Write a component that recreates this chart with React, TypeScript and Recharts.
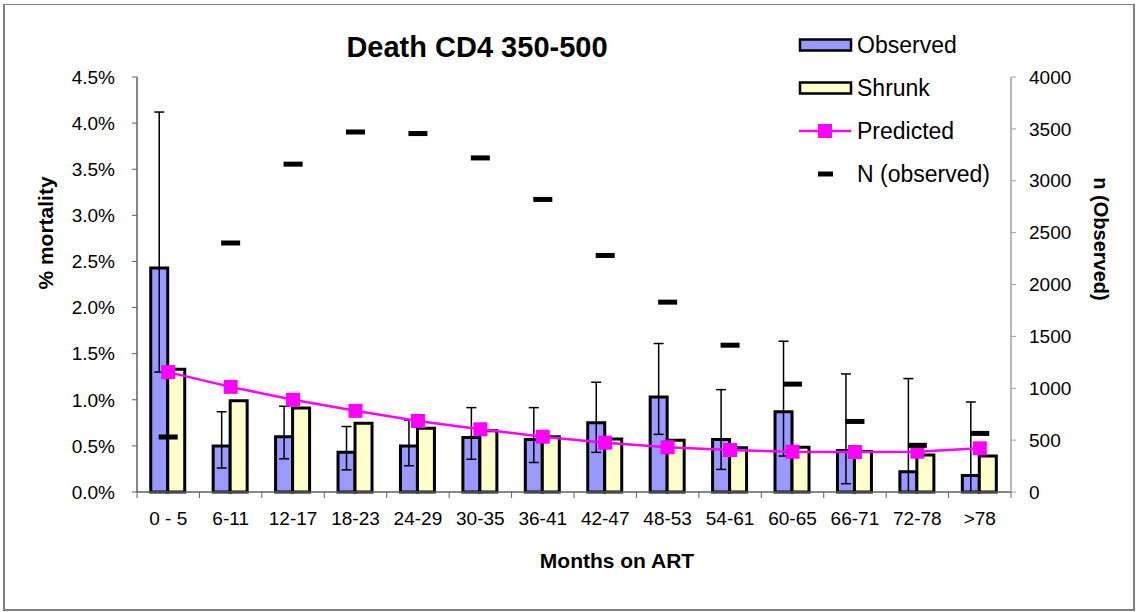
import { ComposedChart, Bar, Line, XAxis, YAxis, ErrorBar } from 'recharts';

const categories = ['0 - 5', '6-11', '12-17', '18-23', '24-29', '30-35', '36-41', '42-47', '48-53', '54-61', '60-65', '66-71', '72-78', '>78'];
const observed = [2.43, 0.5, 0.6, 0.43, 0.5, 0.59, 0.57, 0.75, 1.03, 0.57, 0.87, 0.45, 0.22, 0.18];
const observedLow = [1.3, 0.26, 0.36, 0.24, 0.285, 0.355, 0.32, 0.43, 0.625, 0.245, 0.39, 0.09, 0, 0];
const observedHigh = [4.12, 0.87, 0.93, 0.71, 0.78, 0.915, 0.915, 1.19, 1.61, 1.11, 1.635, 1.28, 1.23, 0.976];
const shrunk = [1.33, 0.99, 0.91, 0.745, 0.69, 0.665, 0.6, 0.575, 0.56, 0.48, 0.485, 0.44, 0.4, 0.39];
const predicted = [1.3, 1.14, 1.0, 0.88, 0.77, 0.68, 0.6, 0.535, 0.485, 0.455, 0.437, 0.434, 0.437, 0.474];
const nObserved = [530, 2400, 3160, 3470, 3455, 3220, 2820, 2280, 1830, 1415, 1040, 680, 450, 565];

const pctTicks = [0, 0.5, 1, 1.5, 2, 2.5, 3, 3.5, 4, 4.5];
const nTicks = [0, 500, 1000, 1500, 2000, 2500, 3000, 3500, 4000];

const FONT = 'Arial, "Liberation Sans", sans-serif';
const PLOT_LEFT = 137;
const PLOT_RIGHT = 1011;
const PLOT_BOTTOM = 492;
const BAND = (PLOT_RIGHT - PLOT_LEFT) / categories.length;

const data = categories.map((cat, i) => ({
  cat,
  observed: observed[i],
  obsErr: [observed[i] - observedLow[i], observedHigh[i] - observed[i]],
  shrunk: shrunk[i],
  predicted: predicted[i],
  n: nObserved[i],
}));

function XTick(props: any) {
  const { x, y, payload, index } = props;
  return (
    <g>
      <line x1={x - BAND / 2} x2={x - BAND / 2} y1={PLOT_BOTTOM} y2={PLOT_BOTTOM + 6} stroke="#606060" />
      {index === categories.length - 1 && (
        <line x1={x + BAND / 2} x2={x + BAND / 2} y1={PLOT_BOTTOM} y2={PLOT_BOTTOM + 6} stroke="#606060" />
      )}
      <text x={x} y={y} dy="0.71em" textAnchor="middle" fontSize={19} fill="#000">
        {payload.value}
      </text>
    </g>
  );
}

function SquareDot(props: any) {
  const { cx, cy, index } = props;
  if (cx == null || cy == null) return <g key={`sq-${index}`} />;
  return <rect key={`sq-${index}`} x={cx - 7} y={cy - 7} width={14} height={14} fill="#FF00FF" />;
}

function DashDot(props: any) {
  const { cx, cy, index } = props;
  if (cx == null || cy == null) return <g key={`dash-${index}`} />;
  return <rect key={`dash-${index}`} x={cx - 9.5} y={cy - 2.5} width={19} height={5} fill="#000" />;
}

function Overlay() {
  const rows = [45, 88, 131, 174];
  return (
    <svg width={1136} height={612} style={{ position: 'absolute', left: 0, top: 0, pointerEvents: 'none' }} fontFamily={FONT}>
      <text x={477} y={57} textAnchor="middle" fontSize={29} fontWeight="bold">Death CD4 350-500</text>
      <text x={45} y={233} textAnchor="middle" dominantBaseline="central" fontSize={21} fontWeight="bold" transform="rotate(-90 45 233)">% mortality</text>
      <text x={1101} y={239} textAnchor="middle" dominantBaseline="central" fontSize={20} fontWeight="bold" transform="rotate(90 1101 239)">n (Observed)</text>
      <text x={617} y={560} textAnchor="middle" dominantBaseline="central" fontSize={21} fontWeight="bold">Months on ART</text>

      {/* legend */}
      <rect x={800} y={rows[0] - 5.5} width={51} height={11} fill="#9999FF" stroke="#000" strokeWidth={2.5} />
      <rect x={800} y={rows[1] - 5.5} width={51} height={11} fill="#FFFFCC" stroke="#000" strokeWidth={2.5} />
      <line x1={799} x2={851} y1={rows[2]} y2={rows[2]} stroke="#FF00FF" strokeWidth={2.5} />
      <rect x={818} y={rows[2] - 7} width={14} height={14} fill="#FF00FF" />
      <rect x={818} y={rows[3] - 2.5} width={15} height={5} fill="#000" />
      {['Observed', 'Shrunk', 'Predicted', 'N (observed)'].map((label, i) => (
        <text key={label} x={857} y={rows[i]} dominantBaseline="central" fontSize={23}>{label}</text>
      ))}
    </svg>
  );
}

export default function App() {
  return (
    <div style={{ position: 'absolute', left: 0, top: 0, width: 1136, height: 612, background: '#fff', fontFamily: FONT }}>
      <div
        style={{
          position: 'absolute',
          left: 3,
          top: 4,
          width: 1128,
          height: 604,
          borderStyle: 'solid',
          borderColor: '#808080',
          borderWidth: '1px 2px 2px 2px',
        }}
      />
      <ComposedChart
        width={1136}
        height={612}
        data={data}
        margin={{ top: 77, right: 65, bottom: 90, left: 77 }}
        barCategoryGap="22%"
        barGap={0}
        style={{ position: 'absolute', left: 0, top: 0 }}
      >
        <XAxis
          dataKey="cat"
          height={30}
          interval={0}
          tickSize={6}
          tickMargin={14}
          tickLine={false}
          axisLine={{ stroke: '#606060', strokeWidth: 1.5 }}
          tick={<XTick />}
        />
        <YAxis
          yAxisId="left"
          width={60}
          domain={[0, 4.5]}
          ticks={pctTicks}
          tickFormatter={(v: number) => `${v.toFixed(1)}%`}
          tickSize={5}
          tickMargin={17}
          axisLine={{ stroke: '#606060', strokeWidth: 1.5 }}
          tickLine={{ stroke: '#606060' }}
          tick={{ fontSize: 19, fill: '#000' }}
          interval={0}
        />
        <YAxis
          yAxisId="right"
          orientation="right"
          width={60}
          domain={[0, 4000]}
          ticks={nTicks}
          tickSize={5}
          tickMargin={13}
          axisLine={{ stroke: '#a0a0a0', strokeWidth: 1.5 }}
          tickLine={{ stroke: '#a0a0a0' }}
          tick={{ fontSize: 19, fill: '#000', textAnchor: 'start' }}
          interval={0}
        />
        <Bar yAxisId="left" dataKey="observed" fill="#9999FF" stroke="#000" strokeWidth={3} isAnimationActive={false}>
          <ErrorBar dataKey="obsErr" direction="y" width={5} stroke="#000" strokeWidth={1.5} />
        </Bar>
        <Bar yAxisId="left" dataKey="shrunk" fill="#FFFFCC" stroke="#000" strokeWidth={3} isAnimationActive={false} />
        <Line
          yAxisId="left"
          dataKey="predicted"
          stroke="#FF00FF"
          strokeWidth={2.5}
          dot={SquareDot}
          activeDot={false}
          isAnimationActive={false}
        />
        <Line
          yAxisId="right"
          dataKey="n"
          stroke="none"
          dot={DashDot}
          activeDot={false}
          isAnimationActive={false}
        />
      </ComposedChart>
      <Overlay />
    </div>
  );
}
